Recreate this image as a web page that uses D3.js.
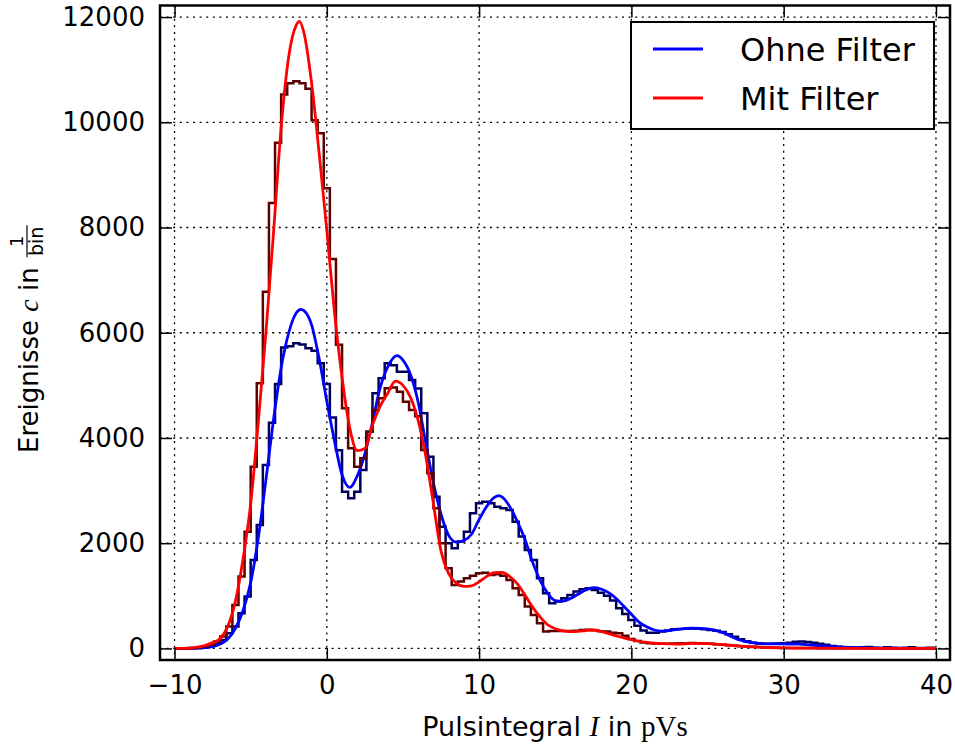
<!DOCTYPE html>
<html>
<head>
<meta charset="utf-8">
<script src="https://cdn.jsdelivr.net/npm/d3@7"></script>
<style>
  body { margin: 0; background: #fff; }
  text { font-family: "DejaVu Sans", sans-serif; fill: #000; }
</style>
</head>
<body>
<div id="chart"></div>
<script>
// tick values
var xTicks = [-10, 0, 10, 20, 30, 40];
var yTicks = [0, 2000, 4000, 6000, 8000, 10000, 12000];

// histogram bins: centres start at -10, spacing 0.4
var binStart = -10, binStep = 0.4;

var ohneHist = [0, 0, 0, 5, 10, 20, 45, 90, 160, 290,
  415, 670, 985, 1680, 2345, 3485, 4290, 5025, 5720, 5745,
  5800, 5775, 5705, 5660, 5420, 5025, 4390, 3765, 2980, 2855,
  2980, 3390, 4120, 4850, 5135, 5420, 5380, 5260, 5260, 5100,
  4940, 4470, 3645, 2885, 2315, 2000, 1905, 2030, 2220, 2570,
  2760, 2790, 2760, 2695, 2665, 2630, 2410, 2125, 1870, 1680,
  1335, 1050, 860, 890, 955, 1015, 1080, 1125, 1145, 1110,
  1060, 1000, 910, 765, 655, 540, 430, 340, 300, 300,
  320, 340, 365, 370, 375, 380, 375, 365, 350, 335,
  310, 270, 220, 175, 135, 110, 95, 90, 90, 95,
  100, 110, 125, 130, 120, 110, 90, 70, 45, 30,
  20, 20, 15, 20, 25, 15, 10, 20, 15, 10, 15, 20, 10, 10, 15, 10];

var mitHist = [0, 0, 5, 10, 20, 40, 70, 130, 225, 415,
  825, 1365, 2220, 3455, 5040, 6780, 8465, 9610, 10530, 10740,
  10780, 10740, 10640, 10040, 9790, 8745, 7400, 5770, 4565, 3805,
  3455, 3615, 4120, 4530, 4755, 4945, 4960, 4880, 4690, 4530,
  4415, 3770, 3330, 2665, 2000, 1525, 1205, 1270, 1335, 1380,
  1430, 1440, 1395, 1410, 1380, 1300, 1145, 1015, 795, 635,
  480, 320, 330, 330, 330, 330, 335, 350, 355, 345,
  325, 320, 300, 290, 240, 180, 140, 115, 100, 95,
  90, 90, 95, 100, 100, 105, 100, 95, 90, 80,
  70, 60, 50, 40, 35, 30, 25, 20, 15, 15,
  10, 10, 8, 8, 6, 6, 5, 5, 5, 4,
  4, 4, 3, 3, 3, 3, 2, 2, 2, 2, 2, 2, 1, 1, 1, 1];

// fitted curves
var ohneFitX = [-10, -9, -8.5, -8, -7.5, -7, -6.5, -6, -5.5, -5,
  -4.5, -4, -3.5, -3, -2.5, -2, -1.7, -1.5, -1, -0.5,
  0, 0.5, 1, 1.5, 2, 2.5, 3, 3.5, 4, 4.6,
  5, 5.5, 6, 6.5, 7, 7.5, 8, 8.5, 9, 9.5,
  10, 10.5, 11, 11.3, 11.5, 12, 12.5, 13, 13.5, 14,
  14.5, 15, 15.5, 16, 16.5, 17, 17.5, 18, 18.5, 19,
  19.5, 20, 20.5, 21, 21.5, 22, 22.5, 23, 24, 25,
  26, 27, 28, 29, 30, 31, 32, 33, 35, 37, 40];
var ohneFitY = [0, 2, 6, 14, 35, 85, 180, 380, 720, 1250,
  2100, 3200, 4350, 5330, 6000, 6380, 6445, 6420, 6150, 5500,
  4700, 3950, 3300, 3060, 3280, 3700, 4300, 4950, 5350, 5565,
  5480, 5200, 4680, 3900, 3150, 2550, 2150, 2020, 2050, 2170,
  2450, 2700, 2870, 2905, 2880, 2700, 2420, 2080, 1650, 1300,
  1050, 910, 900, 950, 1030, 1110, 1155, 1130, 1060, 950,
  800, 650, 500, 410, 350, 330, 340, 360, 385, 370,
  300, 170, 105, 88, 85, 80, 60, 40, 15, 5, 0];

var mitFitX = [-10, -9.5, -9, -8.5, -8, -7.5, -7, -6.5, -6, -5.5,
  -5, -4.5, -4, -3.5, -3, -2.5, -2, -1.8, -1.5, -1,
  -0.5, 0, 0.5, 1, 1.5, 2, 2.5, 3, 3.5, 4,
  4.5, 5, 5.5, 6, 6.5, 7, 7.5, 8, 8.5, 9,
  9.5, 10, 10.5, 11, 11.5, 12, 12.5, 13, 13.5, 14,
  14.5, 15, 15.5, 16, 16.5, 17, 17.5, 18, 18.5, 19,
  19.5, 20, 21, 22, 23, 24, 25, 26, 27, 28,
  29, 30, 32, 35, 40];
var mitFitY = [0, 2, 8, 25, 55, 110, 190, 420, 900, 1700,
  2750, 4300, 6000, 7900, 9900, 11250, 11850, 11920, 11700, 10750,
  9400, 7950, 6400, 5150, 4200, 3760, 3800, 4250, 4600, 4850,
  5080, 5000, 4770, 4330, 3650, 2750, 1850, 1420, 1240, 1180,
  1190, 1265, 1370, 1440, 1445, 1370, 1230, 1020, 790, 600,
  450, 375, 335, 320, 325, 340, 350, 325, 280, 240,
  200, 165, 115, 90, 82, 95, 90, 72, 50, 30,
  18, 10, 4, 1, 0];

var seriesNames = ["Ohne Filter", "Mit Filter"];
var fitColors = ["#0000ff", "#ff0000"];
var histColors = ["#00005a", "#5a0000"];

var width = 955, height = 747;
var plotLeft = 160, plotRight = 950, plotTop = 5.5, plotBottom = 660;

var svg = d3.select("#chart").append("svg")
  .attr("width", width)
  .attr("height", height);

var x = d3.scaleLinear().domain([-11, 41]).range([159.3, 951.2]);
var y = d3.scaleLinear().domain([-220, 12220]).range([plotBottom, plotTop]);

svg.append("clipPath").attr("id", "plotclip")
  .append("rect")
  .attr("x", plotLeft).attr("y", plotTop)
  .attr("width", plotRight - plotLeft).attr("height", plotBottom - plotTop);

// grid
var grid = svg.append("g").attr("class", "grid");
grid.selectAll("line.gx").data(xTicks).enter().append("line")
  .attr("class", "gx")
  .attr("x1", function(d) { return x(d); })
  .attr("x2", function(d) { return x(d); })
  .attr("y1", plotTop).attr("y2", plotBottom);
grid.selectAll("line.gy").data(yTicks).enter().append("line")
  .attr("class", "gy")
  .attr("y1", function(d) { return y(d); })
  .attr("y2", function(d) { return y(d); })
  .attr("x1", plotLeft).attr("x2", plotRight);
grid.selectAll("line")
  .attr("stroke", "#000")
  .attr("stroke-width", 1.3)
  .attr("stroke-dasharray", "2,4.6");

var plot = svg.append("g").attr("clip-path", "url(#plotclip)");

var histLine = d3.line()
  .x(function(d, i) { return x(binStart + i * binStep); })
  .y(function(d) { return y(d); })
  .curve(d3.curveStep);

var fitLine = d3.line()
  .x(function(d) { return x(d[0]); })
  .y(function(d) { return y(d[1]); })
  .curve(d3.curveMonotoneX);

var ohneFit = d3.zip(ohneFitX, ohneFitY);
var mitFit = d3.zip(mitFitX, mitFitY);

plot.append("path").datum(ohneHist)
  .attr("d", histLine)
  .attr("fill", "none").attr("stroke", histColors[0]).attr("stroke-width", 2.5);
plot.append("path").datum(ohneFit)
  .attr("d", fitLine)
  .attr("fill", "none").attr("stroke", fitColors[0]).attr("stroke-width", 2.8);
plot.append("path").datum(mitHist)
  .attr("d", histLine)
  .attr("fill", "none").attr("stroke", histColors[1]).attr("stroke-width", 2.5);
plot.append("path").datum(mitFit)
  .attr("d", fitLine)
  .attr("fill", "none").attr("stroke", fitColors[1]).attr("stroke-width", 2.8);

// axes, ticks pointing inwards on all four sides
var xAxis = svg.append("g")
  .attr("transform", "translate(0," + plotBottom + ")")
  .call(d3.axisBottom(x).tickValues(xTicks).tickSize(-12).tickPadding(15.5));
var yAxis = svg.append("g")
  .attr("transform", "translate(" + plotLeft + ",0)")
  .call(d3.axisLeft(y).tickValues(yTicks).tickSize(-12).tickPadding(15).tickFormat(d3.format("d")));
var xTop = svg.append("g")
  .attr("transform", "translate(0," + plotTop + ")")
  .call(d3.axisTop(x).tickValues(xTicks).tickSize(-12).tickFormat(""));
var yRight = svg.append("g")
  .attr("transform", "translate(" + plotRight + ",0)")
  .call(d3.axisRight(y).tickValues(yTicks).tickSize(-12).tickFormat(""));

[xAxis, yAxis, xTop, yRight].forEach(function(a) {
  a.select(".domain").remove();
  a.selectAll(".tick line").attr("stroke", "#000").attr("stroke-width", 1.5);
  a.selectAll(".tick text")
    .attr("font-family", "'DejaVu Sans', sans-serif")
    .attr("font-size", 26)
    .attr("fill", "#000");
});

svg.append("rect")
  .attr("x", plotLeft).attr("y", plotTop)
  .attr("width", plotRight - plotLeft).attr("height", plotBottom - plotTop)
  .attr("fill", "none").attr("stroke", "#000").attr("stroke-width", 2.5);

// x axis label
var xl = svg.append("text")
  .attr("x", (plotLeft + plotRight) / 2).attr("y", 736)
  .attr("text-anchor", "middle")
  .attr("font-size", 27);
xl.append("tspan").text("Pulsintegral ");
xl.append("tspan").attr("font-family", "'Liberation Serif', serif").attr("font-style", "italic").attr("font-size", 29).text("I");
xl.append("tspan").text(" in ");
xl.append("tspan").attr("font-family", "'Liberation Serif', serif").attr("font-size", 29).text("pVs");

// y axis label with 1/bin fraction
var yl = svg.append("g").attr("transform", "translate(38,332) rotate(-90)");
var ylt = yl.append("text").attr("x", -121).attr("y", 0).attr("font-size", 26);
ylt.append("tspan").text("Ereignisse ");
ylt.append("tspan").attr("font-family", "'Liberation Serif', serif").attr("font-style", "italic").attr("font-size", 28).text("c");
ylt.append("tspan").text(" in ");
var fx = -121 + ylt.node().getComputedTextLength() + 9;
yl.append("text").attr("x", fx + 17).attr("y", -15)
  .attr("text-anchor", "middle")
  .attr("font-family", "'Liberation Serif', serif").attr("font-size", 18).text("1");
yl.append("line")
  .attr("x1", fx + 1).attr("x2", fx + 33)
  .attr("y1", -11).attr("y2", -11)
  .attr("stroke", "#000").attr("stroke-width", 1.2);
yl.append("text").attr("x", fx + 17).attr("y", 5)
  .attr("text-anchor", "middle")
  .attr("font-family", "'Liberation Serif', serif").attr("font-size", 19).text("bin");

// legend
var legend = svg.append("g");
legend.append("rect")
  .attr("x", 631).attr("y", 22).attr("width", 303).attr("height", 107)
  .attr("fill", "#fff").attr("stroke", "#000").attr("stroke-width", 2);
var items = legend.selectAll("g.item").data(seriesNames).enter().append("g")
  .attr("transform", function(d, i) { return "translate(0," + (49 + i * 49) + ")"; });
items.append("line")
  .attr("x1", 653).attr("x2", 703).attr("y1", 0).attr("y2", 0)
  .attr("stroke", function(d, i) { return fitColors[i]; })
  .attr("stroke-width", 3);
items.append("text")
  .attr("x", 740).attr("y", 12)
  .attr("font-size", 32)
  .text(function(d) { return d; });
</script>
</body>
</html>
